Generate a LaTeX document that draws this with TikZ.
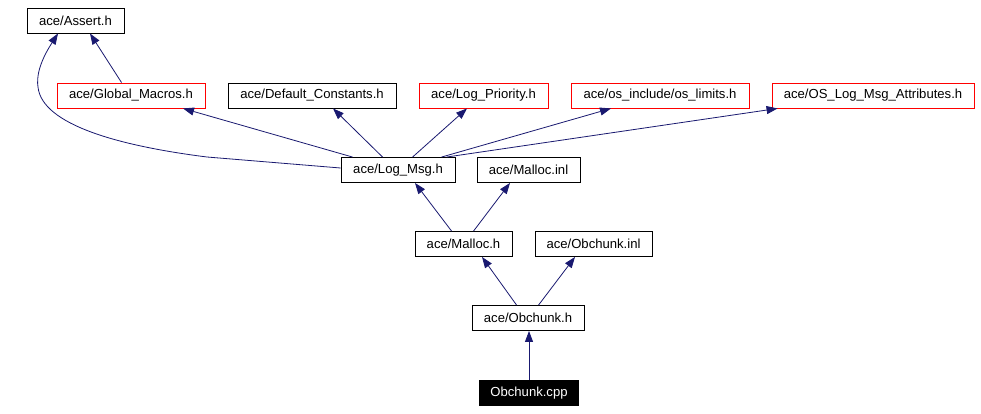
\documentclass[tikz,border=0pt]{standalone}
\usepackage{fontspec}
\setmainfont{Liberation Sans}
\usetikzlibrary{arrows.meta}
\definecolor{edgeblue}{HTML}{191970}
\begin{document}
\begin{tikzpicture}[x=1pt,y=-1pt,
  box/.style={draw=black,line width=0.9pt,fill=white,minimum height=25pt,inner xsep=2pt,inner ysep=0pt,
    font=\fontsize{13.1}{15}\selectfont,text=black},
  redbox/.style={box,draw=red},
  blackbox/.style={box,fill=black,text=white},
  dep/.style={draw=edgeblue,line width=0.8pt,-{Triangle[length=11pt,width=8pt]}}]
\useasboundingbox[fill=white] (0,0) rectangle (981,413);
% row 0
\node[box,minimum width=97pt] (assert) at (75.5,20.5) {ace/Assert.h};
% row 1
\node[redbox,minimum width=148pt] (gm) at (131,95.5) {ace/Global\_Macros.h};
\node[box,minimum width=168pt] (dc) at (312,95.5) {ace/Default\_Constants.h};
\node[redbox,minimum width=129pt] (lp) at (483.5,95.5) {ace/Log\_Priority.h};
\node[redbox,minimum width=178pt] (osl) at (660,95.5) {ace/os\_include/os\_limits.h};
\node[redbox,minimum width=202pt] (oslm) at (873,95.5) {ace/OS\_Log\_Msg\_Attributes.h};
% row 2
\node[box,minimum width=114pt] (logmsg) at (398,170) {ace/Log\_Msg.h};
\node[box,minimum width=103pt] (mallocinl) at (528.5,170) {ace/Malloc.inl};
% row 3
\node[box,minimum width=97pt] (malloch) at (463.5,244) {ace/Malloc.h};
\node[box,minimum width=117pt] (obinl) at (593.5,244) {ace/Obchunk.inl};
% row 4
\node[box,minimum width=112pt] (obh) at (528,318) {ace/Obchunk.h};
% row 5
\node[blackbox,minimum width=99pt] (cpp) at (529,393) {Obchunk.cpp};
% edges
\coordinate (c1) at (207,157);
\coordinate (c2) at (38,87);
\draw[dep] ([yshift=2pt]logmsg.west) -- (c1) .. controls (120,146) and (42,125) .. (c2)
  .. controls (35,68) and (50,46) .. ([xshift=-17.5pt]assert.south);
\draw[dep] ([xshift=65pt]gm.north west) -- ([xshift=14.5pt]assert.south);
\draw[dep] ([xshift=12pt]logmsg.north west) -- ([xshift=52pt]gm.south);
\draw[dep] ([xshift=42pt]logmsg.north west) -- ([xshift=21pt]dc.south);
\draw[dep] ([xshift=72pt]logmsg.north west) -- ([xshift=-16.5pt]lp.south);
\draw[dep] ([xshift=101pt]logmsg.north west) -- ([xshift=-49pt]osl.south);
\draw[dep] ([xshift=106pt]logmsg.north west) -- ([xshift=6pt]oslm.south west);
\draw[dep] ([xshift=37pt]malloch.north west) -- ([xshift=17pt]logmsg.south);
\draw[dep] ([xshift=59pt]malloch.north west) -- ([xshift=-18.5pt]mallocinl.south);
\draw[dep] ([xshift=45pt]obh.north west) -- ([xshift=18.5pt]malloch.south);
\draw[dep] ([xshift=67pt]obh.north west) -- ([xshift=-18.5pt]obinl.south);
\draw[dep] (cpp.north) -- (cpp.north |- obh.south);
\end{tikzpicture}
\end{document}
